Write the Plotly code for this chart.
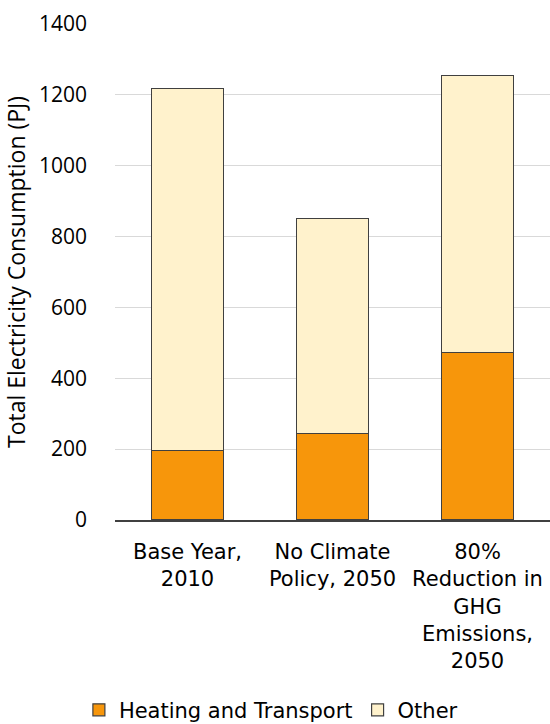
import plotly.graph_objects as go

categories = ["Base Year,<br>2010", "No Climate<br>Policy, 2050",
              "80%<br>Reduction in<br>GHG<br>Emissions,<br>2050"]
heating_transport = [197, 244, 472]
other = [1020, 608, 782]
y_ticks = [0, 200, 400, 600, 800, 1000, 1200, 1400]

fig = go.Figure()
fig.add_bar(x=categories, y=heating_transport, name="Heating and Transport",
            marker=dict(color="#F7960B", line=dict(color="#404040", width=1.2)))
fig.add_bar(x=categories, y=other, name="Other",
            marker=dict(color="#FFF2CC", line=dict(color="#404040", width=1.2)))

fig.update_layout(
    barmode="stack", bargap=0.50,
    width=550, height=744,
    margin=dict(l=115, r=0, t=24, b=224),
    paper_bgcolor="white", plot_bgcolor="white",
    font=dict(family="DejaVu Sans", size=20, color="#000000"),
    showlegend=True,
    legend=dict(orientation="h", x=-0.083, xanchor="left", y=-0.342, yanchor="top",
                traceorder="normal", font=dict(family="DejaVu Sans", size=21),
                itemwidth=30),
    xaxis=dict(showline=True, linecolor="#404040", linewidth=1.5,
               tickfont=dict(family="DejaVu Sans", size=21), ticks="",
               ticklabelstandoff=12, automargin=False),
    yaxis=dict(range=[0, 1400], tickvals=y_ticks, showgrid=True,
               gridcolor="#D9D9D9", gridwidth=1, zeroline=False,
               automargin=False,
               title=dict(text="Total Electricity Consumption (PJ)",
                          font=dict(family="Open Sans", size=23), standoff=6),
               tickfont=dict(family="Open Sans", size=21), ticks="",
               ticklabelstandoff=27),
)
fig.write_html("out.html", config={"displayModeBar": False},
               post_script=("document.body.style.margin='0';"
                            "document.body.style.overflow='hidden';"
                            "document.documentElement.style.overflow='hidden';"))
